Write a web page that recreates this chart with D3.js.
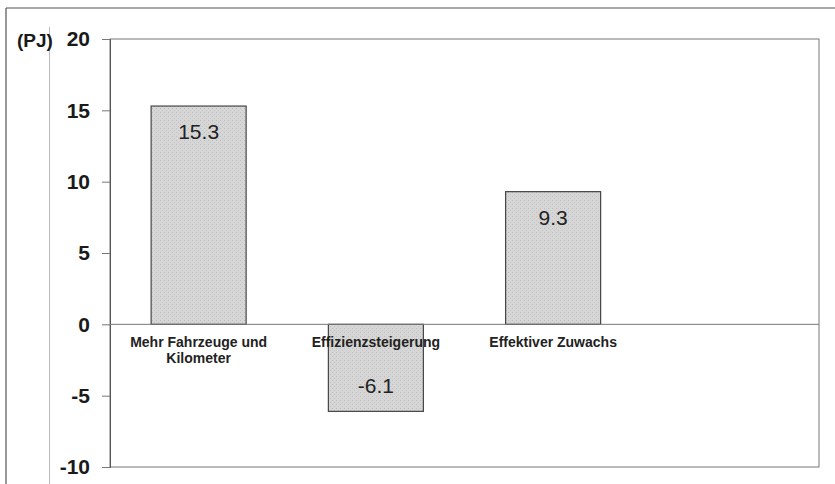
<!DOCTYPE html>
<html>
<head>
<meta charset="utf-8">
<script src="https://cdn.jsdelivr.net/npm/d3@7"></script>
<style>
  body { margin: 0; background: #fff; }
  svg { display: block; }
  text { font-family: "Liberation Sans", Arial, sans-serif; }
</style>
</head>
<body>
<svg id="chart" width="835" height="484"></svg>
<script>
var categories = [["Mehr Fahrzeuge und", "Kilometer"], ["Effizienzsteigerung"], ["Effektiver Zuwachs"], [""]];
var values = [15.3, -6.1, 9.3, null];
var yTicks = [20, 15, 10, 5, 0, -5, -10];

var svg = d3.select("#chart");

// outer frame of the scanned page
svg.append("line").attr("x1", 6).attr("x2", 835).attr("y1", 8).attr("y2", 8)
    .attr("stroke", "#555").attr("stroke-width", 1.2);
svg.append("line").attr("x1", 6).attr("x2", 6).attr("y1", 8).attr("y2", 484)
    .attr("stroke", "#555").attr("stroke-width", 1.2);
svg.append("line").attr("x1", 49.5).attr("x2", 49.5).attr("y1", 27).attr("y2", 484)
    .attr("stroke", "#bbb").attr("stroke-width", 1);

var plot = {left: 110, right: 819, top: 39, bottom: 467};

var x = d3.scaleBand()
    .domain(d3.range(categories.length))
    .range([plot.left, plot.right])
    .paddingInner(0.464)
    .paddingOuter(0.232);

var y = d3.scaleLinear().domain([-10, 20]).range([plot.bottom, plot.top]);

// plot area border
svg.append("rect")
    .attr("x", plot.left).attr("y", plot.top)
    .attr("width", plot.right - plot.left).attr("height", plot.bottom - plot.top)
    .attr("fill", "none").attr("stroke", "#777").attr("stroke-width", 1);

// texture for bars
var defs = svg.append("defs");
var pat = defs.append("pattern").attr("id", "grain")
    .attr("width", 4).attr("height", 4).attr("patternUnits", "userSpaceOnUse");
pat.append("rect").attr("width", 4).attr("height", 4).attr("fill", "#d6d6d6");
pat.append("rect").attr("width", 1).attr("height", 1).attr("fill", "#bdbdbd");
pat.append("rect").attr("x", 2).attr("y", 2).attr("width", 1).attr("height", 1).attr("fill", "#c4c4c4");

// y axis
var yAxis = d3.axisLeft(y).tickValues(yTicks).tickSize(8).tickPadding(12)
    .tickFormat(function(d) { return String(d); });
var ya = svg.append("g").attr("transform", "translate(" + plot.left + ",0)").call(yAxis);
ya.select(".domain").attr("stroke", "#555");
ya.selectAll(".tick line").attr("stroke", "#777");
ya.selectAll(".tick text")
    .attr("font-size", 21).attr("font-weight", "bold").attr("fill", "#1a1a1a")
    .style("font-family", "'Liberation Sans', Arial, sans-serif");

svg.append("text").attr("x", 17).attr("y", 47)
    .attr("font-size", 19).attr("font-weight", "bold").attr("fill", "#1a1a1a")
    .text("(PJ)");

// bars
var data = values.map(function(v, i) { return {i: i, v: v}; }).filter(function(d) { return d.v !== null; });

svg.selectAll("rect.bar")
    .data(data)
    .enter()
    .append("rect")
    .attr("class", "bar")
    .attr("x", function(d) { return x(d.i); })
    .attr("width", x.bandwidth())
    .attr("y", function(d) { return y(Math.max(0, d.v)); })
    .attr("height", function(d) { return Math.abs(y(d.v) - y(0)); })
    .attr("fill", "url(#grain)")
    .attr("stroke", "#444")
    .attr("stroke-width", 1.2);

// zero line
svg.append("line")
    .attr("x1", plot.left).attr("x2", plot.right)
    .attr("y1", y(0)).attr("y2", y(0))
    .attr("stroke", "#777").attr("stroke-width", 1);

// value labels
svg.selectAll("text.val")
    .data(data)
    .enter()
    .append("text")
    .attr("class", "val")
    .attr("x", function(d) { return x(d.i) + x.bandwidth() / 2; })
    .attr("y", function(d) { return d.v >= 0 ? y(d.v) + 33 : y(d.v) - 18; })
    .attr("text-anchor", "middle")
    .attr("font-size", 21)
    .attr("fill", "#222")
    .text(function(d) { return d.v.toFixed(1); });

// category labels
var cat = svg.selectAll("text.cat")
    .data(categories)
    .enter()
    .append("text")
    .attr("class", "cat")
    .attr("text-anchor", "middle")
    .attr("font-size", 14)
    .attr("font-weight", "bold")
    .attr("fill", "#222");

cat.selectAll("tspan")
    .data(function(d, i) { return d.map(function(s) { return {s: s, i: i}; }); })
    .enter()
    .append("tspan")
    .attr("x", function(d) { return x(d.i) + x.bandwidth() / 2; })
    .attr("y", function(d, j) { return y(0) + 23 + j * 15.5; })
    .text(function(d) { return d.s; });
</script>
</body>
</html>
